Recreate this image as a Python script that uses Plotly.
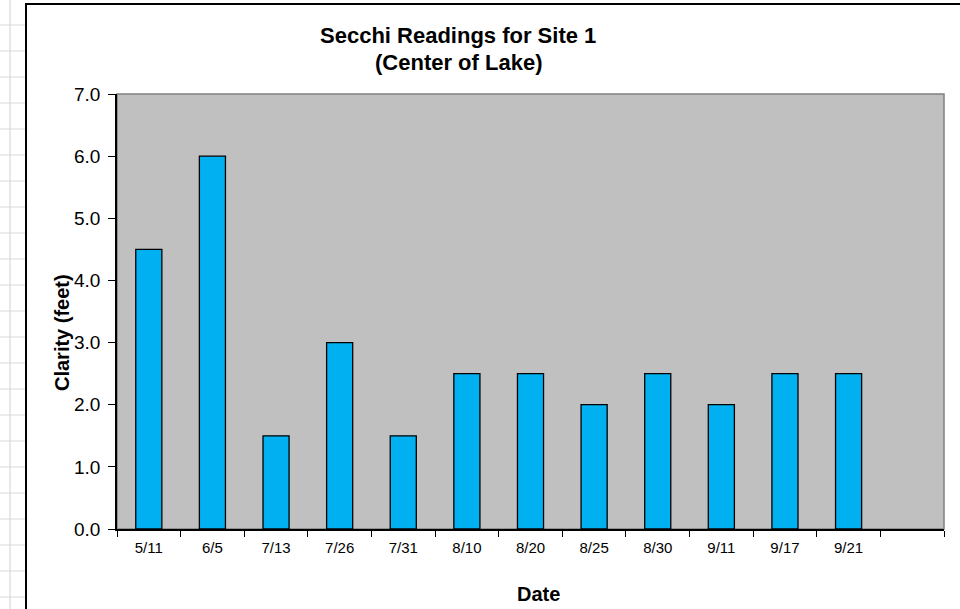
import plotly.graph_objects as go

dates = ["5/11", "6/5", "7/13", "7/26", "7/31", "8/10", "8/20", "8/25", "8/30", "9/11", "9/17", "9/21", " "]
clarity = [4.5, 6.0, 1.5, 3.0, 1.5, 2.5, 2.5, 2.0, 2.5, 2.0, 2.5, 2.5, None]
y_ticks = [0, 1, 2, 3, 4, 5, 6, 7]

W, H = 960, 609
L, R, T, B = 117, 944, 94, 529
pw, ph = R - L, B - T

def px(x):
    return (x - L) / pw

def py(y):
    return (B - y) / ph

fig = go.Figure()
fig.add_trace(go.Bar(
    x=dates, y=clarity,
    marker=dict(color="#00B0F0", line=dict(color="#000000", width=1.3)),
    width=0.41,
))

shapes = []
# spreadsheet grid on the left margin
for yy in range(25, 609, 26):
    shapes.append(dict(type="line", xref="paper", yref="paper",
                       x0=px(0), x1=px(26), y0=py(yy), y1=py(yy),
                       line=dict(color="#D9D9D9", width=1), layer="below"))
shapes.append(dict(type="line", xref="paper", yref="paper",
                   x0=px(10), x1=px(10), y0=py(0), y1=py(609),
                   line=dict(color="#D0D0D0", width=1), layer="below"))
# chart frame
shapes.append(dict(type="rect", xref="paper", yref="paper",
                   x0=px(26), x1=px(970), y0=py(4), y1=py(620),
                   line=dict(color="#000000", width=2), fillcolor="rgba(0,0,0,0)", layer="below"))
# plot area border (top/right gray)
shapes.append(dict(type="rect", xref="paper", yref="paper",
                   x0=0, x1=1, y0=0, y1=1,
                   line=dict(color="#808080", width=1.5), fillcolor="rgba(0,0,0,0)", layer="below"))

fig.update_layout(
    width=W, height=H,
    margin=dict(l=L, r=W - R, t=T, b=H - B),
    paper_bgcolor="white",
    plot_bgcolor="#C0C0C0",
    showlegend=False,
    font=dict(family="Liberation Sans, Arial, sans-serif", color="#000000"),
    shapes=shapes,
    xaxis=dict(
        type="category", tickson="boundaries",
        ticks="outside", ticklen=6, tickcolor="#000000", tickwidth=1,
        showline=True, linecolor="#000000", linewidth=1.5,
        showgrid=False, tickfont=dict(size=15), fixedrange=True,
        range=[-0.5, 12.5], ticklabelstandoff=4,
    ),
    yaxis=dict(
        range=[0, 7], tickvals=y_ticks, tickformat=".1f",
        ticks="outside", ticklen=7, tickcolor="#000000", tickwidth=1,
        showline=True, linecolor="#000000", linewidth=1.5,
        showgrid=False, zeroline=False, tickfont=dict(size=19),
        ticklabelstandoff=4,
    ),
    annotations=[
        dict(text="<b>Secchi Readings for Site 1</b>", xref="paper", yref="paper",
             x=px(458), y=py(35), showarrow=False, font=dict(size=22),
             xanchor="center", yanchor="middle"),
        dict(text="<b>(Center of Lake)</b>", xref="paper", yref="paper",
             x=px(458), y=py(63), showarrow=False, font=dict(size=22),
             xanchor="center", yanchor="middle"),
        dict(text="<b>Clarity (feet)</b>", xref="paper", yref="paper",
             x=px(62), y=py(333), showarrow=False, textangle=-90, font=dict(size=20),
             xanchor="center", yanchor="middle"),
        dict(text="<b>Date</b>", xref="paper", yref="paper",
             x=px(538), y=py(594), showarrow=False, font=dict(size=20),
             xanchor="center", yanchor="middle"),
    ],
)

fig.write_html("out.html", config={"displayModeBar": False},
               post_script="document.body.style.margin='0';document.body.style.overflow='hidden';")
